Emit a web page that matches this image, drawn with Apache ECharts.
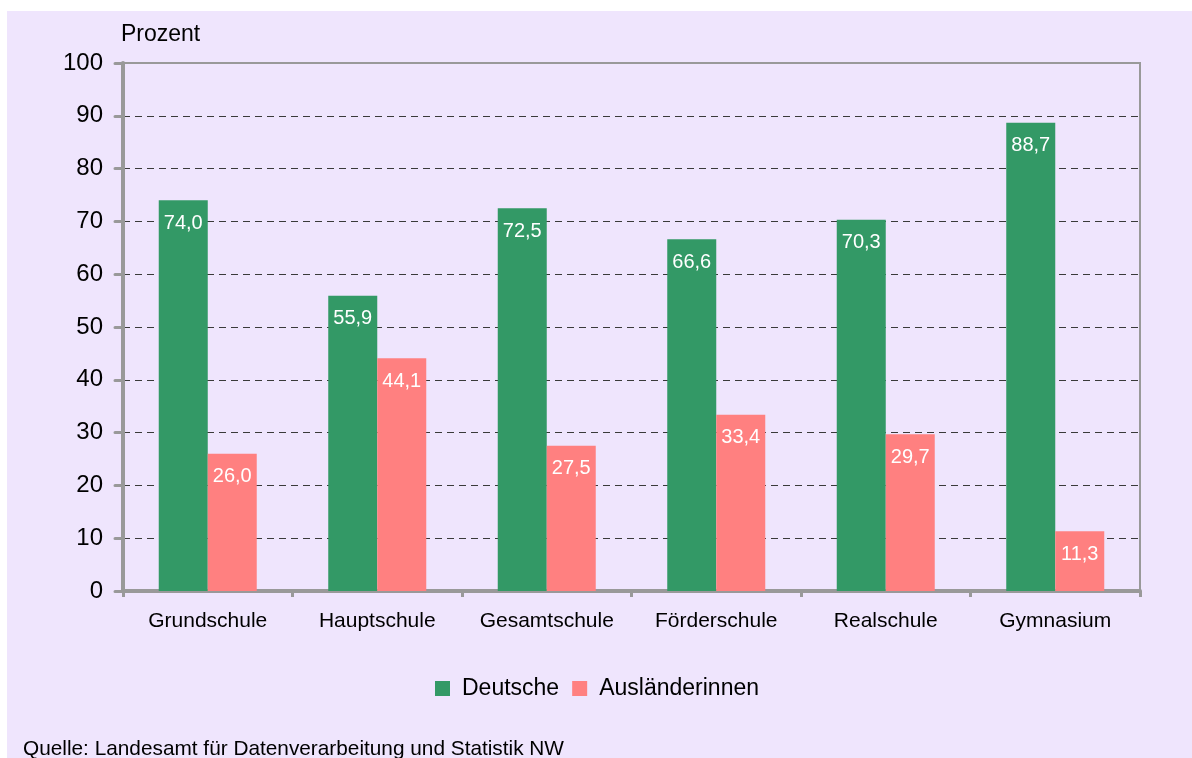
<!DOCTYPE html>
<html>
<head>
<meta charset="utf-8">
<title>Schüler nach Schulform</title>
<script src="https://cdn.jsdelivr.net/npm/echarts@6/dist/echarts.min.js"></script>
<style>
  html, body { margin: 0; padding: 0; background: #fff; }
  #chart { position: absolute; left: 7px; top: 11px; width: 1185px; height: 747px; }
</style>
</head>
<body>
<div id="chart"></div>
<script>
// Schulformen (x-Achse)
const schulformen = ['Grundschule', 'Hauptschule', 'Gesamtschule', 'Förderschule', 'Realschule', 'Gymnasium']
// Anteile in Prozent
const deutsche = [74.0, 55.9, 72.5, 66.6, 70.3, 88.7]
const auslaenderinnen = [26.0, 44.1, 27.5, 33.4, 29.7, 11.3]
// y-Achse
const yMin = 0
const yMax = 100
const yStep = 10

const fontName = '"Liberation Sans", Arial, sans-serif'

// 1. Instanz anlegen
const myChart = echarts.init(document.getElementById('chart'))

// Gitterlinien: bei 0 und 100 keine gestrichelte Linie (dort liegt Achse / Rahmen)
const splitColors = []
for (let v = yMin; v <= yMax; v += yStep) {
  splitColors.push(v === yMin || v === yMax ? 'rgba(0,0,0,0)' : '#3a3a3a')
}

// Zahl mit Komma wie im Original
const fmt = (p) => p.value.toFixed(1).replace('.', ',')

const barLabel = {
  show: true,
  position: 'insideTop',
  distance: 13,
  color: '#fff',
  fontSize: 20,
  fontFamily: fontName,
  formatter: fmt
}

// 2. option
const option = {
  backgroundColor: '#efe5fd',
  textStyle: { fontFamily: fontName },
  animation: false,
  grid: {
    left: 116,
    right: 52,
    top: 52,
    bottom: 167,
    show: true,
    borderColor: '#999',
    borderWidth: 2
  },
  legend: {
    left: 428,
    top: 666,
    padding: 0,
    itemWidth: 15,
    itemHeight: 15,
    itemGap: 13,
    icon: 'rect',
    textStyle: { fontSize: 23, color: '#000', fontFamily: fontName, padding: [0, 0, 0, 7] },
    data: ['Deutsche', 'Ausländerinnen']
  },
  xAxis: {
    type: 'category',
    data: schulformen,
    axisLine: { lineStyle: { color: '#999', width: 4 } },
    axisTick: { show: true, length: 6, lineStyle: { color: '#999', width: 3 } },
    axisLabel: { color: '#000', fontSize: 21, margin: 20, interval: 0 }
  },
  yAxis: {
    type: 'value',
    min: yMin,
    max: yMax,
    interval: yStep,
    name: 'Prozent',
    nameLocation: 'end',
    nameGap: 17,
    nameTextStyle: { color: '#000', fontSize: 23, align: 'left', padding: [0, 0, 0, -2] },
    axisLine: { show: true, lineStyle: { color: '#999', width: 4 } },
    axisTick: { show: true, length: 8, lineStyle: { color: '#999', width: 3, cap: 'round' } },
    axisLabel: { color: '#000', fontSize: 24, margin: 20 },
    splitLine: { show: true, lineStyle: { color: splitColors, width: 1, type: [7, 5] } }
  },
  series: [
    {
      name: 'Deutsche',
      type: 'bar',
      data: deutsche,
      barWidth: 49,
      barGap: '0%',
      itemStyle: { color: '#339966' },
      label: barLabel
    },
    {
      name: 'Ausländerinnen',
      type: 'bar',
      data: auslaenderinnen,
      barWidth: 49,
      barGap: '0%',
      itemStyle: { color: '#ff8080' },
      label: barLabel
    }
  ],
  // Quellenangabe unten links
  graphic: [{
    type: 'text',
    left: 16,
    top: 728,
    style: {
      text: 'Quelle: Landesamt für Datenverarbeitung und Statistik NW',
      fontSize: 20.8,
      fontFamily: fontName,
      fill: '#000'
    }
  }]
}

// 3. zeichnen
myChart.setOption(option)
</script>
</body>
</html>
